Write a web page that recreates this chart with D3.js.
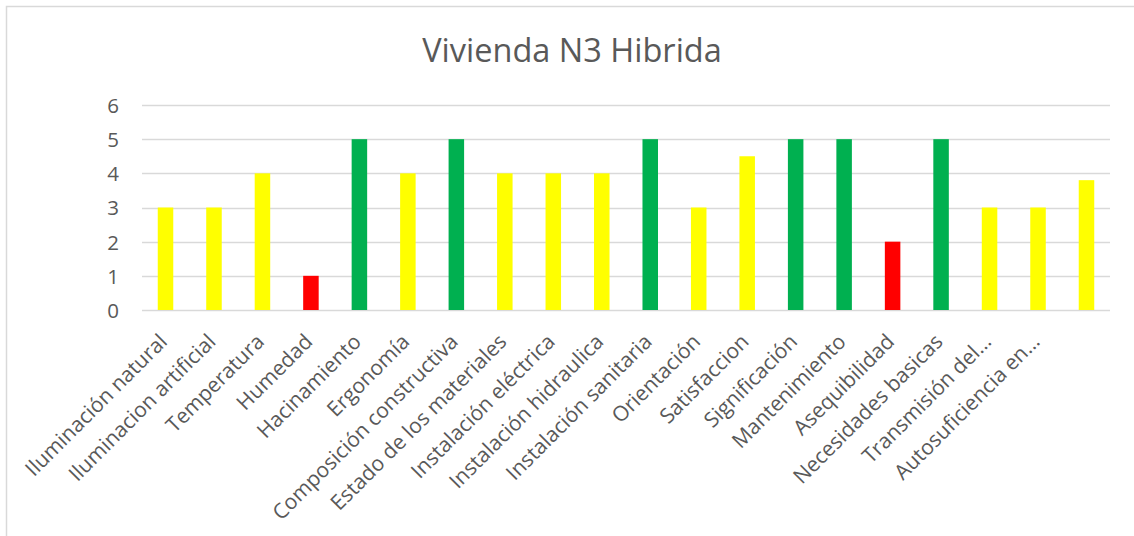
<!DOCTYPE html>
<html>
<head>
<meta charset="utf-8">
<script src="https://cdn.jsdelivr.net/npm/d3@7"></script>
<style>
  html, body { margin: 0; padding: 0; background: #fff; }
  svg { display: block; }
</style>
</head>
<body>
<svg id="chart" width="1134" height="536"></svg>
<script>
// Indicator names for the housing assessment (the last category has no name)
const categories = [
  "Iluminación natural", "Iluminacion artificial", "Temperatura", "Humedad",
  "Hacinamiento", "Ergonomía", "Composición constructiva", "Estado de los materiales",
  "Instalación eléctrica", "Instalación hidraulica", "Instalación sanitaria",
  "Orientación", "Satisfaccion", "Significación", "Mantenimiento", "Asequibilidad",
  "Necesidades basicas", "Transmisión del…", "Autosuficiencia en…", ""
];
// Score of each indicator
const values = [3, 3, 4, 1, 5, 4, 5, 4, 4, 4, 5, 3, 4.5, 5, 5, 2, 5, 3, 3, 3.8];
// Colour class of each bar
const levels = ["medio", "medio", "medio", "bajo", "alto", "medio", "alto", "medio",
  "medio", "medio", "alto", "medio", "medio", "alto", "alto", "bajo", "alto",
  "medio", "medio", "medio"];
const yTicks = [0, 1, 2, 3, 4, 5, 6];
const title = "Vivienda N3 Hibrida";

const levelColor = { alto: "#00B050", medio: "#FFFF00", bajo: "#FF0000" };
const font = "'Open Sans', 'Noto Sans', sans-serif";
const textColor = "#595959";

const svg = d3.select("#chart");

// Chart frame
svg.append("rect")
  .attr("x", 6.5).attr("y", 6.5)
  .attr("width", 1140).attr("height", 540)
  .attr("fill", "#fff").attr("stroke", "#d9d9d9").attr("stroke-width", 1.5);

const plot = { left: 142, right: 1110, top: 105, bottom: 310 };

// Band scale over category indices (names need not be unique)
const x = d3.scaleBand()
  .domain(d3.range(categories.length))
  .range([plot.left, plot.right])
  .paddingInner(0.68)
  .paddingOuter(0.325);

const y = d3.scaleLinear().domain([0, 6]).range([plot.bottom, plot.top]);

// Title
svg.append("text")
  .attr("x", 572).attr("y", 62)
  .attr("text-anchor", "middle")
  .attr("font-family", font).attr("font-size", 32.5)
  .attr("fill", textColor)
  .text(title);

// Horizontal gridlines
svg.append("g")
  .selectAll("line")
  .data(yTicks)
  .join("line")
  .attr("x1", plot.left).attr("x2", plot.right)
  .attr("y1", d => Math.round(y(d)) + 0.5).attr("y2", d => Math.round(y(d)) + 0.5)
  .attr("stroke", "#d9d9d9").attr("stroke-width", 1.5);

// Y axis labels
const yAxis = d3.axisLeft(y).tickValues(yTicks).tickSize(0).tickPadding(0).tickFormat(d3.format("d"));
const yg = svg.append("g").attr("transform", `translate(${plot.left - 23},0)`).call(yAxis);
yg.select(".domain").remove();
yg.selectAll("text")
  .attr("font-family", font).attr("font-size", 20.5)
  .attr("fill", textColor).attr("dy", "0.36em");

// Bars
svg.append("g")
  .selectAll("rect")
  .data(values)
  .join("rect")
  .attr("x", (d, i) => x(i))
  .attr("width", x.bandwidth())
  .attr("y", d => y(d))
  .attr("height", d => y(0) - y(d))
  .attr("fill", (d, i) => levelColor[levels[i]]);

// Category labels, rotated
const xAxis = d3.axisBottom(x).tickSize(0).tickPadding(0).tickFormat(i => categories[i]);
const xg = svg.append("g").attr("transform", `translate(0,${plot.bottom})`).call(xAxis);
xg.select(".domain").remove();
xg.selectAll("text")
  .attr("font-family", font).attr("font-size", 21)
  .attr("fill", textColor)
  .attr("text-anchor", "end")
  .attr("dy", 0)
  .attr("transform", "translate(3,33) rotate(-45)");
</script>
</body>
</html>
